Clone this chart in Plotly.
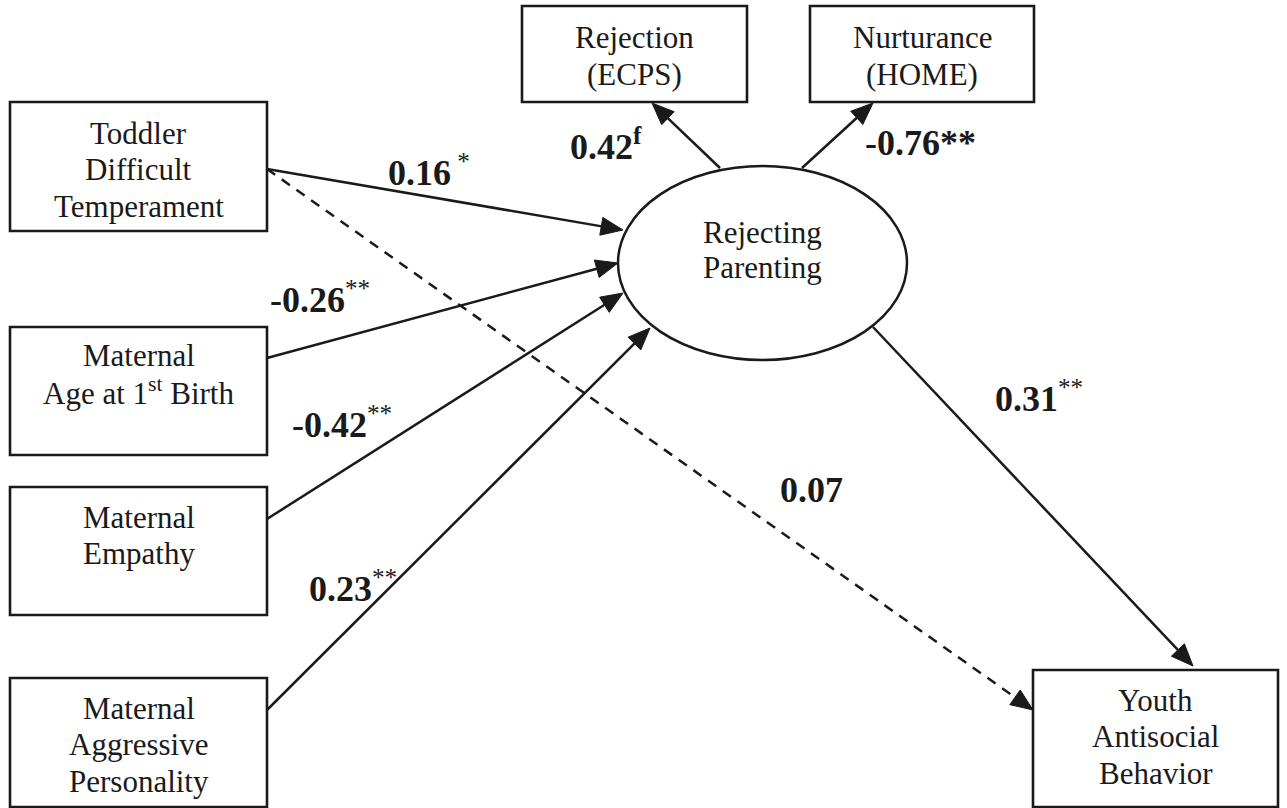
import numpy as np
import plotly.graph_objects as go

# ---------------- data ----------------
node_names = ["tod", "age", "emp", "agg", "rej", "nur", "youth", "rp"]
node_lines = [
    ["Toddler", "Difficult", "Temperament"],
    ["Maternal", "Age at 1<sup>st</sup> Birth"],
    ["Maternal", "Empathy"],
    ["Maternal", "Aggressive", "Personality"],
    ["Rejection", "(ECPS)"],
    ["Nurturance", "(HOME)"],
    ["Youth", "Antisocial", "Behavior"],
    ["Rejecting", "Parenting"],
]
path_from = ["tod", "age", "emp", "agg", "tod", "rp", "rp", "rp"]
path_to = ["rp", "rp", "rp", "rp", "youth", "youth", "rej", "nur"]
path_coef = ["0.16", "-0.26", "-0.42", "0.23", "0.07", "0.31", "0.42", "-0.76"]
path_sig = [" *", "**", "**", "**", "", "**", "f", "**"]
path_dashed = [False, False, False, False, True, False, False, False]

# ---------------- layout geometry (pixels) ----------------
W, H = 1287, 808
boxes = {
    "tod": (10, 102, 267, 231),
    "age": (10, 327, 267, 455),
    "emp": (10, 487, 267, 615),
    "agg": (10, 678, 267, 807),
    "rej": (522, 6, 747, 102),
    "nur": (810, 6, 1034, 102),
    "youth": (1033, 670, 1278, 807),
}
ellipse = (618, 166, 907, 360)
first_line_y = {"tod": 133, "age": 355, "emp": 517, "agg": 708, "rej": 37,
                "nur": 37, "youth": 700, "rp": 232}
line_step = {"rej": 37, "nur": 37, "rp": 35}
path_start = [(267, 169), (267, 358), (267, 519), (267, 710), (267, 169),
              (873, 327), (720, 168), (802, 168)]
path_tip = [(623, 230), (618, 263), (623, 293), (650, 328), (1033, 710),
            (1193, 666), (652, 103), (873, 103)]
label_pos = [(386, 170), (268, 297), (290, 422), (307, 586), (778, 490),
             (993, 396), (568, 144), (863, 143)]
label_sup = [True, True, True, True, True, True, True, False]
label_sup_bold = [False, False, False, False, False, False, True, False]

FONT = "Liberation Serif"
INK = "#1a1a1a"

fig = go.Figure()
fig.add_trace(go.Scatter(x=[0, W], y=[0, H], mode="markers",
                         marker=dict(opacity=0), hoverinfo="skip", showlegend=False))

shapes = []
annotations = []

# boxes
for name, (x0, y0, x1, y1) in boxes.items():
    shapes.append(dict(type="rect", xref="x", yref="y", x0=x0, y0=y0, x1=x1, y1=y1,
                       line=dict(color=INK, width=2.6), fillcolor="white", layer="below"))
# ellipse
ex0, ey0, ex1, ey1 = ellipse
shapes.append(dict(type="circle", xref="x", yref="y", x0=ex0, y0=ey0, x1=ex1, y1=ey1,
                   line=dict(color=INK, width=2.5), fillcolor="rgba(0,0,0,0)"))

# node texts
for name, lines in zip(node_names, node_lines):
    if name == "rp":
        cx = (ex0 + ex1) / 2
    else:
        x0, y0, x1, y1 = boxes[name]
        cx = (x0 + x1) / 2
    step = line_step.get(name, 36.5)
    for i, t in enumerate(lines):
        annotations.append(dict(x=cx, y=first_line_y[name] + i * step, xref="x", yref="y",
                                text=t, showarrow=False, xanchor="center", yanchor="middle",
                                font=dict(family=FONT, size=31, color=INK)))

# arrows
AL, AW = 22, 9
for (sx, sy), (tx, ty), dashed in zip(path_start, path_tip, path_dashed):
    d = np.array([tx - sx, ty - sy], dtype=float)
    u = d / np.linalg.norm(d)
    n = np.array([-u[1], u[0]])
    base = np.array([tx, ty]) - AL * u
    line = dict(color=INK, width=2.5)
    if dashed:
        line["dash"] = "10px,8px"
    shapes.append(dict(type="line", xref="x", yref="y", x0=sx, y0=sy,
                       x1=base[0] + 2 * u[0], y1=base[1] + 2 * u[1], line=line))
    p1 = base + AW * n
    p2 = base - AW * n
    path = f"M {tx},{ty} L {p1[0]:.2f},{p1[1]:.2f} L {p2[0]:.2f},{p2[1]:.2f} Z"
    shapes.append(dict(type="path", xref="x", yref="y", path=path,
                       fillcolor=INK, line=dict(color=INK, width=1)))

# coefficient labels
for coef, sig, (lx, ly), sup, supb in zip(path_coef, path_sig, label_pos, label_sup,
                                          label_sup_bold):
    if sig and sup:
        s = f"<b>{sig}</b>" if supb else sig
        txt = f"<b>{coef}</b><sup>{s}</sup>"
    else:
        txt = f"<b>{coef}{sig}</b>"
    annotations.append(dict(x=lx, y=ly, xref="x", yref="y", text=txt, showarrow=False,
                            xanchor="left", yanchor="middle",
                            font=dict(family=FONT, size=36, color=INK)))

fig.update_layout(
    width=W, height=H, margin=dict(l=0, r=0, t=0, b=0),
    paper_bgcolor="white", plot_bgcolor="white",
    xaxis=dict(range=[0, W], visible=False, fixedrange=True),
    yaxis=dict(range=[H, 0], visible=False, fixedrange=True),
    shapes=shapes, annotations=annotations, showlegend=False,
)
fig.write_html("out.html", config={"displayModeBar": False},
               post_script="document.body.style.margin='0';document.body.style.overflow='hidden';")
